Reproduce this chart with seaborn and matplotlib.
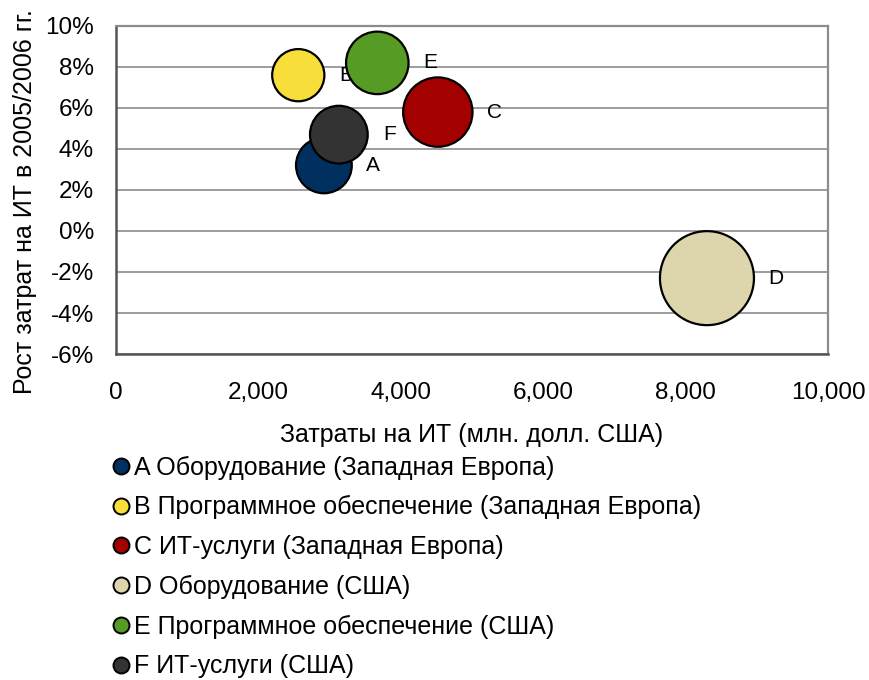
import numpy as np
import pandas as pd
import matplotlib
matplotlib.use("Agg")
import matplotlib.pyplot as plt
from matplotlib.lines import Line2D
import seaborn as sns

# Segment data: IT spend (mln USD) and spend growth 2005/2006 (%)
letters = ["A", "B", "C", "D", "E", "F"]
segments = [
    "Оборудование (Западная Европа)",
    "Программное обеспечение (Западная Европа)",
    "ИТ-услуги (Западная Европа)",
    "Оборудование (США)",
    "Программное обеспечение (США)",
    "ИТ-услуги (США)",
]
spend = [2920, 2560, 4520, 8300, 3670, 3130]
growth = [3.2, 7.6, 5.8, -2.3, 8.2, 4.7]
colors = ["#00305F", "#F8DE3A", "#A30000", "#DDD6AC", "#559B24", "#333333"]

x_ticks = [0, 2000, 4000, 6000, 8000, 10000]
y_ticks = [-6, -4, -2, 0, 2, 4, 6, 8, 10]

df = pd.DataFrame({"letter": letters, "segment": segments,
                   "spend": spend, "growth": growth})

sns.set_style("white")
plt.rcParams["font.family"] = ["Liberation Sans", "DejaVu Sans"]
plt.rcParams.update({"text.color": "black", "axes.labelcolor": "black",
                     "xtick.color": "black", "ytick.color": "black"})

TICK_FS = 17.5
TITLE_FS = 18
POINT_FS = 15

fig = plt.figure(figsize=(8.69, 6.8), dpi=100)
ax = fig.add_axes([0.1335, 0.4794, 0.8193, 0.4824])

# bubble area proportional to spend
k = 0.552
sizes = (k * min(spend), k * max(spend))

ax.set_axisbelow(True)
ax.yaxis.grid(True, color="#8C8C8C", linewidth=1.2)
ax.xaxis.grid(False)

sns.scatterplot(data=df, x="spend", y="growth", hue="letter",
                palette=colors, size="spend", sizes=sizes,
                edgecolor="black", linewidth=1.6, alpha=1,
                legend=False, ax=ax, zorder=3)

for xv, yv, lt in zip(spend, growth, letters):
    r_pt = np.sqrt(k * xv) / 2
    ax.annotate(lt, (xv, yv), xytext=(r_pt + 15.5, 0),
                textcoords="offset points", ha="center", va="center",
                fontsize=POINT_FS, color="black", zorder=2)

ax.set_xlim(0, 10000)
ax.set_ylim(-6, 10)
ax.set_xticks(x_ticks)
ax.set_xticklabels([f"{v:,}" for v in x_ticks], fontsize=TICK_FS)
ax.set_yticks(y_ticks)
ax.set_yticklabels([f"{v}%" for v in y_ticks], fontsize=TICK_FS)
ax.tick_params(axis="x", direction="out", length=5, width=1.2,
               color="#333333", labelcolor="black", pad=15)
ax.tick_params(axis="y", direction="out", length=5, width=1.2,
               color="#333333", labelcolor="black", pad=11)

for side in ["left", "bottom"]:
    ax.spines[side].set_color("#555555")
    ax.spines[side].set_linewidth(1.8)
for side in ["top", "right"]:
    ax.spines[side].set_color("#8C8C8C")
    ax.spines[side].set_linewidth(1.6)

ax.set_xlabel("Затраты на ИТ (млн. долл. США)", fontsize=TITLE_FS,
              labelpad=14, color="black")
ax.set_ylabel("Рост затрат на ИТ в 2005/2006 гг.", fontsize=TITLE_FS,
              color="black")
ax.yaxis.set_label_coords(-0.111, 0.466)

handles = [Line2D([0], [0], marker="o", linestyle="none", markersize=11.5,
                  markerfacecolor=c, markeredgecolor="black",
                  markeredgewidth=1.4) for c in colors]
labels = [f"{lt} {sg}" for lt, sg in zip(letters, segments)]
fig.legend(handles, labels, loc="upper left",
           bbox_to_anchor=(0.131, 0.330), frameon=False, fontsize=TITLE_FS,
           handlelength=0.6, handletextpad=0.2, labelspacing=0.63,
           borderaxespad=0, borderpad=0, labelcolor="black")

fig.savefig("out.png", dpi=100)
